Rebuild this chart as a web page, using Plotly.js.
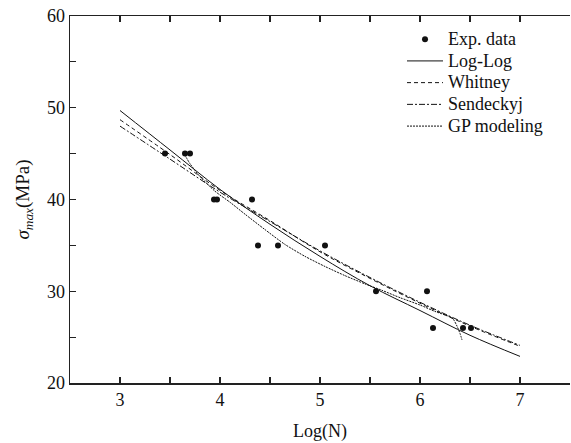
<!DOCTYPE html>
<html>
<head>
<meta charset="utf-8">
<script src="https://cdn.plot.ly/plotly-3.0.1.min.js"></script>
<style>
  html, body { margin: 0; padding: 0; background: #fff; }
  #chart { width: 571px; height: 443px; }
</style>
</head>
<body>
<div id="chart"></div>
<script>
// Experimental fatigue data: log of cycles to failure vs. max stress (MPa)
const expLogN = [3.45, 3.65, 3.70, 3.94, 3.97, 4.32, 4.38, 4.58, 5.05, 5.56, 6.07, 6.13, 6.43, 6.51];
const expStress = [45, 45, 45, 40, 40, 40, 35, 35, 35, 30, 30, 26, 26, 26];

// Fitted model curves, sampled along Log(N)
const modelLogN = [3, 3.5, 4, 4.5, 5, 5.5, 6, 6.5, 7];
const logLogStress = [49.7, 45.4, 41.1, 37.3, 33.8, 30.6, 27.9, 25.2, 22.9];
const whitneyStress = [48.7, 44.9, 41.0, 37.7, 34.3, 31.4, 28.7, 26.2, 24.0];
const sendeckyjStress = [48.0, 44.4, 40.8, 37.6, 34.4, 31.5, 28.8, 26.3, 24.1];

// Genetic programming model, defined only over the tested range
const gpLogN = [3.63, 3.70, 3.80, 3.95, 4.10, 4.25, 4.44, 4.65, 4.85, 5.05, 5.25, 5.45, 5.62, 5.80, 6.00, 6.15, 6.28, 6.33, 6.37, 6.40, 6.42];
const gpStress = [45.2, 43.9, 42.5, 40.9, 39.7, 38.4, 36.8, 35.1, 33.8, 32.7, 31.7, 30.8, 30.1, 29.3, 28.5, 27.8, 27.3, 27.0, 26.2, 25.4, 24.7];

// Legend labels
const seriesNames = ['Exp. data', 'Log-Log', 'Whitney', 'Sendeckyj', 'GP modeling'];

const serif = 'Liberation Serif';
const ink = '#111';

// Legend rows are spaced by the legend font size; the label itself is set larger
const legendLabel = s => '<span style="font-size:18px">' + s + '</span>';

const traces = [
  { x: expLogN, y: expStress, name: legendLabel(seriesNames[0]), mode: 'markers', type: 'scatter',
    marker: { color: ink, size: 6 } },
  { x: modelLogN, y: logLogStress, name: legendLabel(seriesNames[1]), mode: 'lines', type: 'scatter',
    line: { color: ink, width: 1, shape: 'spline' } },
  { x: modelLogN, y: whitneyStress, name: legendLabel(seriesNames[2]), mode: 'lines', type: 'scatter',
    line: { color: ink, width: 1, dash: '4px,3px', shape: 'spline' } },
  { x: modelLogN, y: sendeckyjStress, name: legendLabel(seriesNames[3]), mode: 'lines', type: 'scatter',
    line: { color: ink, width: 1, dash: '6px,2px,2px,2px', shape: 'spline' } },
  { x: gpLogN, y: gpStress, name: legendLabel(seriesNames[4]), mode: 'lines', type: 'scatter',
    line: { color: ink, width: 1, dash: '2px,1px', shape: 'spline', smoothing: 0.6 } }
];

const axisCommon = {
  showgrid: false, zeroline: false,
  showline: true, linecolor: '#222', linewidth: 1.5,
  ticks: 'inside', ticklen: 6, tickwidth: 1.2, tickcolor: '#222',
  tickfont: { family: serif, size: 18, color: ink }
};

const layout = {
  width: 571, height: 443,
  margin: { l: 70, r: 1, t: 16, b: 60 },
  paper_bgcolor: '#fff', plot_bgcolor: '#fff',
  font: { family: serif, color: ink },
  showlegend: true,
  legend: {
    x: 0.664, y: 0.98, xanchor: 'left', yanchor: 'top',
    bgcolor: 'rgba(0,0,0,0)', borderwidth: 0,
    itemwidth: 36,
    font: { family: serif, size: 14.4, color: ink },
    tracegroupgap: 0
  },
  xaxis: Object.assign({}, axisCommon, {
    range: [2.5, 7.5], tickvals: [3, 4, 5, 6, 7], mirror: 'ticks',
    minor: { tickvals: [3.5, 4.5, 5.5, 6.5], ticks: 'inside', ticklen: 6, tickwidth: 1.2, tickcolor: '#222' },
    title: { text: 'Log(N)', font: { family: serif, size: 18, color: ink }, standoff: 15 }
  }),
  yaxis: Object.assign({}, axisCommon, {
    range: [20, 60], tickvals: [20, 30, 40, 50, 60],
    minor: { tickvals: [25, 35, 45, 55], ticks: 'inside', ticklen: 6, tickwidth: 1.2, tickcolor: '#222' },
    title: { text: '<i>σ</i><sub><i>max</i></sub>(MPa)', font: { family: serif, size: 19, color: ink }, standoff: 12 }
  })
};

Plotly.newPlot('chart', traces, layout, { staticPlot: true, displayModeBar: false });
</script>
</body>
</html>
